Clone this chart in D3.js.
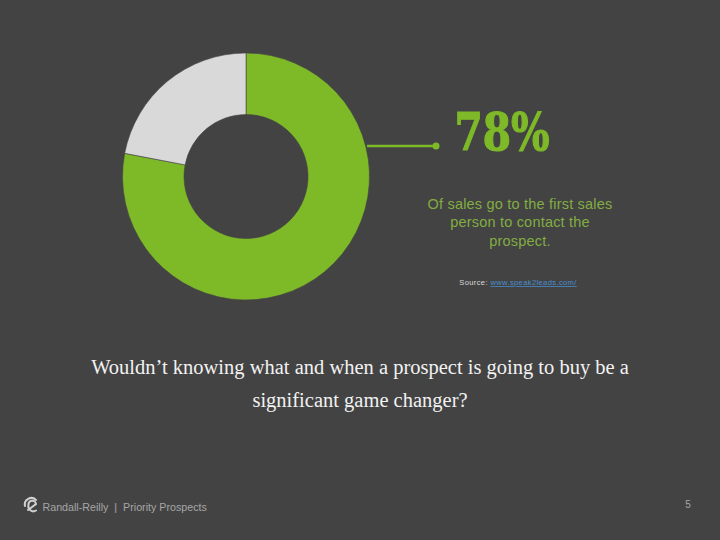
<!DOCTYPE html>
<html>
<head>
<meta charset="utf-8">
<style>
  html, body { margin: 0; padding: 0; background: #434343; }
  svg { display: block; }
  text { font-family: "Liberation Sans", sans-serif; }
</style>
</head>
<body>
<svg id="chart" width="720" height="540"></svg>
<script src="https://cdn.jsdelivr.net/npm/d3@7"></script>
<script>
const categories = ['First sales person', 'Others'];
const shares = [78, 22];
const calloutLabel = '78%';
const captionLines = ['Of sales go to the first sales', 'person to contact the', 'prospect.'];
const sourceLabel = 'Source: ';
const sourceLink = 'www.speak2leads.com/';
const questionLines = ['Wouldn\u2019t knowing what and when a prospect is going to buy be a', 'significant game changer?'];
const footerLabel = 'Randall-Reilly  |  Priority Prospects';
const pageNumber = '5';

const green = '#7eb928';
const svg = d3.select('#chart');

const color = d3.scaleOrdinal().domain(categories).range([green, '#d9d9d9']);
const pie = d3.pie().sort(null).value((d, i) => shares[i]);
const arc = d3.arc().innerRadius(62).outerRadius(123.5);

const donut = svg.append('g').attr('transform', 'translate(246,176.5)');
donut.selectAll('path')
  .data(pie(categories))
  .enter()
  .append('path')
  .attr('d', arc)
  .attr('fill', d => color(d.data))
  .attr('stroke', '#434343')
  .attr('stroke-width', 0.6);

// callout
svg.append('line')
  .attr('x1', 367).attr('x2', 436)
  .attr('y1', 146).attr('y2', 146)
  .attr('stroke', green).attr('stroke-width', 2.5);
svg.append('circle').attr('cx', 436).attr('cy', 146).attr('r', 3.5).attr('fill', green);

svg.append('text')
  .attr('x', 502).attr('y', 150)
  .attr('text-anchor', 'middle')
  .attr('fill', green)
  .attr('stroke', green)
  .attr('stroke-width', 1.2)
  .style('font-family', '"DejaVu Serif Condensed", "DejaVu Serif", serif')
  .style('font-weight', '700')
  .style('font-size', '52px')
  .attr('textLength', 95)
  .attr('lengthAdjust', 'spacingAndGlyphs')
  .text(calloutLabel);

svg.append('g').selectAll('text')
  .data(captionLines)
  .enter()
  .append('text')
  .attr('x', 520)
  .attr('y', (d, i) => 209 + i * 18.3)
  .attr('text-anchor', 'middle')
  .attr('fill', '#82ad42')
  .style('font-size', '14.5px')
  .style('letter-spacing', '0.2px')
  .text(d => d);

const source = svg.append('text')
  .attr('x', 518).attr('y', 285)
  .attr('text-anchor', 'middle')
  .style('font-size', '7.5px')
  .style('letter-spacing', '0.4px');
source.append('tspan').attr('fill', '#d9d9d9').text(sourceLabel);
source.append('tspan').attr('fill', '#4a8fd0').style('text-decoration', 'underline').text(sourceLink);

svg.append('g').selectAll('text')
  .data(questionLines)
  .enter()
  .append('text')
  .attr('x', 360)
  .attr('y', (d, i) => 374 + i * 33)
  .attr('text-anchor', 'middle')
  .attr('fill', '#f2f2f2')
  .style('font-family', '"Liberation Serif", serif')
  .style('font-size', '20.5px')
  .text(d => d);

// footer logo
const logo = svg.append('g')
  .attr('transform', 'translate(31,506)')
  .attr('fill', 'none')
  .attr('stroke', '#d0d0d0')
  .attr('stroke-linecap', 'round');
logo.append('path').attr('stroke-width', 2).attr('d', 'M-6,0 A6.5,6.5 0 0 1 5,-6');
logo.append('path').attr('stroke-width', 2).attr('d', 'M-3,4 L5,-2 A3.5,3.5 0 0 0 -2.5,-1 A5,5 0 0 0 5,4.5');

svg.append('text')
  .attr('x', 42.5).attr('y', 511)
  .attr('fill', '#a6a6a6')
  .attr('xml:space', 'preserve')
  .style('white-space', 'pre')
  .style('font-size', '10.7px')
  .text(footerLabel);

svg.append('text')
  .attr('x', 688).attr('y', 508)
  .attr('text-anchor', 'middle')
  .attr('fill', '#a6a6a6')
  .style('font-size', '10px')
  .text(pageNumber);
</script>
</body>
</html>
